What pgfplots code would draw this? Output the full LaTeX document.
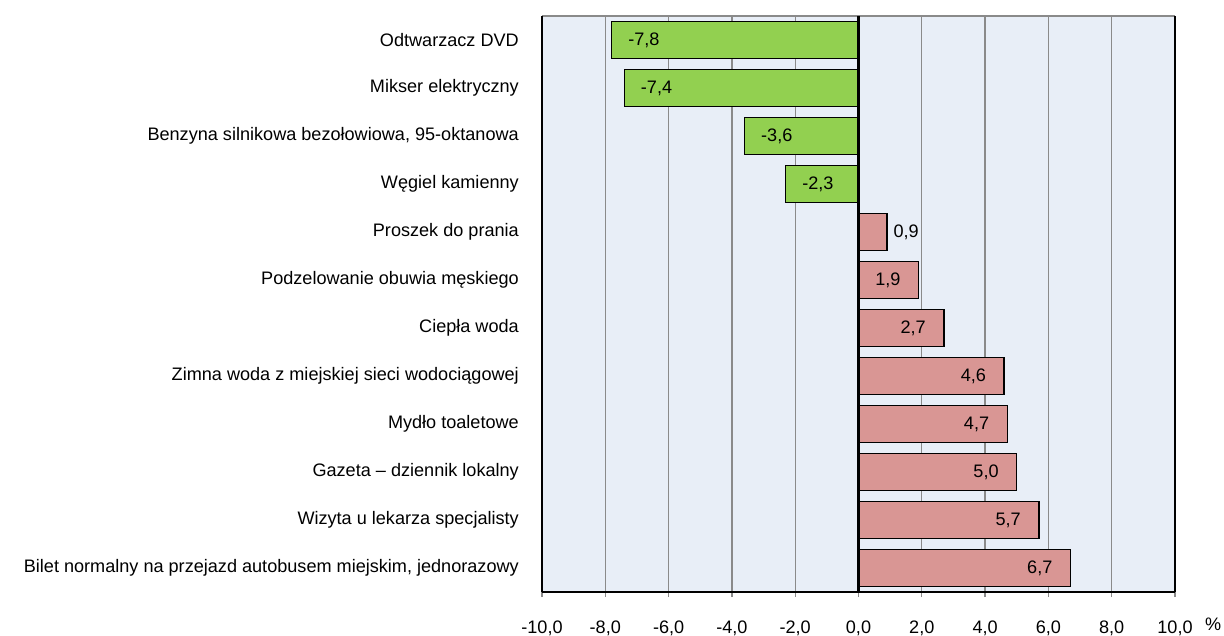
\documentclass[border=0pt]{standalone}
\usepackage{fontspec}
\setmainfont{Liberation Sans}
\usepackage{pgfplots}
\pgfplotsset{compat=1.18}
\definecolor{bgc}{HTML}{E8EEF7}
\definecolor{gbar}{HTML}{92D050}
\definecolor{pbar}{HTML}{D99694}
\definecolor{gridc}{HTML}{8A8A8A}
\begin{document}
\begin{tikzpicture}[font=\fontsize{18.1}{21}\selectfont]
\path[use as bounding box] (0,0) rectangle (1224pt,635pt);
\begin{axis}[
  at={(542pt,43pt)}, anchor=south west,
  scale only axis, width=633pt, height=576pt,
  xmin=-10, xmax=10, ymin=-0.5, ymax=11.5, y dir=reverse,
  xtick={-10,-8,...,10},
  ytick={0,...,11},
  yticklabels={Odtwarzacz DVD, Mikser elektryczny, {Benzyna silnikowa bezołowiowa, 95-oktanowa}, Węgiel kamienny, Proszek do prania, Podzelowanie obuwia męskiego, Ciepła woda, Zimna woda z miejskiej sieci wodociągowej, Mydło toaletowe, Gazeta -- dziennik lokalny, Wizyta u lekarza specjalisty, {Bilet normalny na przejazd autobusem miejskim, jednorazowy}},
  xmajorgrids, grid style={draw=gridc, line width=1.3pt},
  axis background/.style={fill=bgc},
  separate axis lines,
  x axis line style={draw=gridc, line width=1.3pt},
  y axis line style={draw=black, line width=1.3pt},
  xtick pos=bottom, ytick pos=left,
  tick align=outside, major tick length=5pt,
  xtick style={draw=gridc, line width=1.3pt},
  ytick style={draw=none},
  /pgf/number format/.cd, fixed, fixed zerofill, precision=1, use comma, assume math mode=true,
  /pgfplots/.cd,
  xticklabel style={inner sep=0pt, yshift=-23.5pt},
  yticklabel style={inner sep=0pt, xshift=-18pt},
  xbar, bar width=37pt, bar shift=0pt,
  point meta=x,
  nodes near coords,
]
\addplot[fill=gbar, draw=black, line width=1.3pt,
  every node near coord/.append style={anchor=west, inner sep=0pt, xshift=16pt, text=black}]
  coordinates {(-7.8,0) (-7.4,1) (-3.6,2) (-2.3,3)};
\addplot[fill=pbar, draw=black, line width=1.3pt,
  every node near coord/.append style={anchor=west, inner sep=0pt, xshift=6pt, text=black}]
  coordinates {(0.9,4)};
\addplot[fill=pbar, draw=black, line width=1.3pt,
  every node near coord/.append style={anchor=east, inner sep=0pt, xshift=-17.5pt, text=black}]
  coordinates {(1.9,5) (2.7,6) (4.6,7) (4.7,8) (5.0,9) (5.7,10) (6.7,11)};
\draw[black, line width=1.3pt] (rel axis cs:0,0) -- (rel axis cs:1,0);
\draw[black, line width=3pt] (axis cs:0,-0.5) -- (axis cs:0,11.5);
\end{axis}
\node[anchor=west, inner sep=0pt] at (1205pt,11pt) {\%};
\end{tikzpicture}
\end{document}
